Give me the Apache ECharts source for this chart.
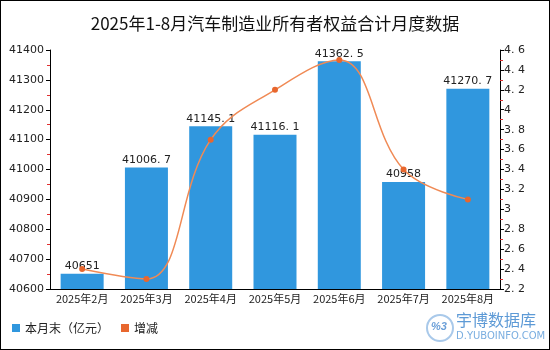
<!DOCTYPE html>
<html><head><meta charset="utf-8">
<script src="https://cdn.jsdelivr.net/npm/echarts@6/dist/echarts.min.js"></script>
<style>html,body{margin:0;padding:0;background:#fff}#c{width:550px;height:350px;box-sizing:border-box;border:1px solid #000}</style>
</head><body><div id="c"></div>
<script>
const categories = ['2025年2月','2025年3月','2025年4月','2025年5月','2025年6月','2025年7月','2025年8月'];
const barValues = [40651, 41006.7, 41145.1, 41116.1, 41362.5, 40958, 41270.7];
const lineValues = [2.4, 2.3, 3.7, 4.2, 4.5, 3.4, 3.1];
const leftTicks = {min: 40600, max: 41400, interval: 100};
const rightTicks = {min: 2.2, max: 4.6, interval: 0.2};
const chart = echarts.init(document.getElementById('c'));
const font = 'DejaVu Sans, sans-serif';
chart.setOption({
  animation: false,
  title: {text: '2025年1-8月汽车制造业所有者权益合计月度数据', left: 'center', top: 9,
    textStyle: {fontSize: 17, fontWeight: 'normal', color: '#111', fontFamily: 'Noto Sans CJK SC'}},
  grid: {left: 49, right: 49, top: 49, bottom: 60},
  legend: {left: 6, bottom: 10, itemWidth: 8, itemHeight: 8, itemGap: 12,
    textStyle: {fontSize: 12, color: '#222', fontFamily: 'Noto Sans CJK SC'},
    data: [{name: '本月末（亿元）', icon: 'rect'}, {name: '增减', icon: 'rect'}]},
  xAxis: {type: 'category', data: categories,
    axisLine: {lineStyle: {color: '#000'}}, axisTick: {show: false},
    axisLabel: {fontSize: 11, color: '#222', margin: 4, interval: 0, fontFamily: 'Noto Sans CJK SC'}},
  yAxis: [
    {type: 'value', min: leftTicks.min, max: leftTicks.max, interval: leftTicks.interval,
     splitLine: {show: false},
     axisLine: {show: true, lineStyle: {color: '#000'}},
     axisTick: {show: true, length: 4, lineStyle: {color: '#000'}},
     minorTick: {show: true, splitNumber: 2, length: 3, lineStyle: {color: '#e03030', width: 1}},
     axisLabel: {fontSize: 11, color: '#222', margin: 6, fontFamily: font, formatter: v => String(v)}},
    {type: 'value', min: rightTicks.min, max: rightTicks.max, interval: rightTicks.interval,
     splitLine: {show: false},
     axisLine: {show: true, lineStyle: {color: '#000'}},
     axisTick: {show: true, length: 4, lineStyle: {color: '#000'}},
     minorTick: {show: true, splitNumber: 2, length: 3, lineStyle: {color: '#e03030', width: 1}},
     axisLabel: {fontSize: 11, color: '#222', margin: 4, fontFamily: font,
       formatter: v => String(Math.round(v*10)/10).replace('.', '. ')}}
  ],
  series: [
    {name: '本月末（亿元）', type: 'bar', data: barValues, barWidth: 43,
     itemStyle: {color: '#3097de'},
     label: {show: true, position: 'top', distance: 2, fontSize: 11, color: '#222', fontFamily: font,
       formatter: p => String(p.value).replace('.', '. ')}},
    {name: '增减', type: 'line', yAxisIndex: 1, data: lineValues, smooth: 0.4,
     symbol: 'circle', symbolSize: 6,
     lineStyle: {color: '#f08a55', width: 1.5},
     itemStyle: {color: '#e8672e'}}
  ],
  graphic: [
    {type: 'circle', shape: {cx: 439, cy: 327, r: 13}, style: {fill: 'none', stroke: '#a9c9ea', lineWidth: 2}},
    {type: 'text', left: 430, top: 320, style: {text: '%3', fill: '#6a9fd8', font: 'italic bold 11px sans-serif'}},
    {type: 'text', left: 455, top: 311, style: {text: '宇博数据库', fill: '#5d9ad6', font: '16px "Noto Sans CJK SC"'}},
    {type: 'text', left: 455, top: 330, style: {text: 'D.YUBOINFO.COM', fill: '#7aaee0', font: '10px "DejaVu Sans"'}}
  ]
});
</script></body></html>
